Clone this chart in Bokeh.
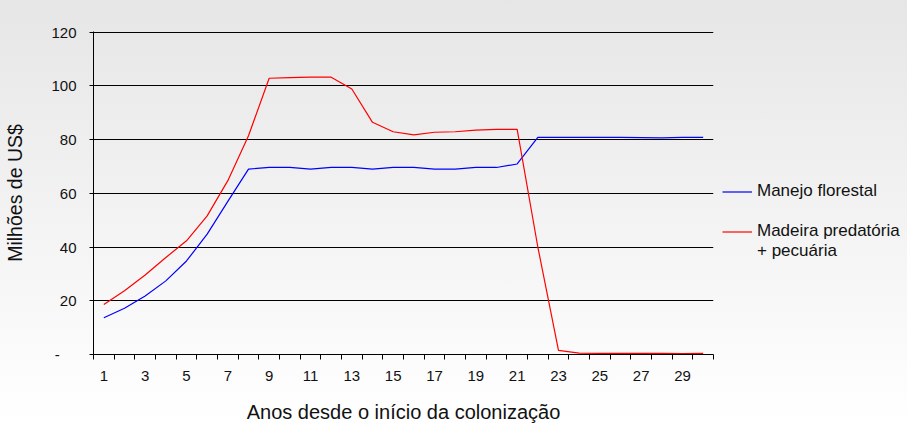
from bokeh.plotting import figure
from bokeh.models import Range1d, FixedTicker, Legend, LegendItem
from bokeh.embed import file_html
from bokeh.resources import INLINE

# ---- data ----
years = list(range(1, 31))
manejo_florestal = [13.7, 17.2, 21.8, 27.4, 34.8, 44.8, 57.0, 69.0, 69.6, 69.6,
                    69.0, 69.6, 69.6, 69.0, 69.6, 69.6, 69.0, 69.0, 69.6, 69.6,
                    70.9, 80.8, 80.8, 80.8, 80.8, 80.8, 80.7, 80.6, 80.8, 80.8]
madeira_pecuaria = [18.6, 23.7, 29.6, 36.1, 42.3, 51.6, 64.7, 81.4, 102.8, 103.0,
                    103.2, 103.2, 98.8, 86.4, 82.9, 81.7, 82.7, 82.9, 83.5, 83.8,
                    83.8, 40.0, 1.5, 0.5, 0.4, 0.4, 0.4, 0.4, 0.3, 0.4]
series_names = ["Manejo florestal", "Madeira predatória"]
series_name_line2 = "+ pecuária"
x_tick_values = list(range(1, 31, 2))
y_tick_values = [0, 20, 40, 60, 80, 100, 120]
y_zero_label = "-\u00a0\u00a0\u00a0\u00a0"
x_title = "Anos desde o início da colonização"
y_title = "Milhões de US$"

FONT = "Liberation Sans"
TXT = "#111111"

p = figure(frame_width=620, frame_height=323, output_backend="svg",
           toolbar_location=None,
           x_range=Range1d(0.5, 30.5), y_range=Range1d(0, 120.2),
           min_border_left=93, min_border_right=186, min_border_top=31,
           min_border_bottom=68)
p.border_fill_color = None
p.background_fill_color = None
p.outline_line_color = None
p.styles = {"background": "linear-gradient(to bottom, #e6e6e6 0%, #fdfdfd 92%, #ffffff 100%)"}

r1 = p.line(years, manejo_florestal, line_color="#0000ff", line_width=1.2)
r2 = p.line(years, madeira_pecuaria, line_color="#ff0000", line_width=1.2)
# invisible renderer used only for the spacer / second legend line
r_blank = p.line(x=[], y=[], line_alpha=0)

# x axis
xa = p.xaxis[0]
xa.ticker = FixedTicker(ticks=x_tick_values,
                        minor_ticks=[v + 0.5 for v in range(0, 31)])
xa.major_tick_out = 0
xa.major_tick_in = 0
xa.major_tick_line_color = None
xa.minor_tick_out = 5
xa.minor_tick_in = 0
xa.minor_tick_line_color = "black"
xa.axis_line_color = "black"
xa.major_label_text_font = FONT
xa.major_label_text_font_size = "15px"
xa.major_label_text_color = TXT
xa.major_label_standoff = 11
xa.axis_label = x_title
xa.axis_label_text_font = FONT
xa.axis_label_text_font_size = "20px"
xa.axis_label_text_font_style = "normal"
xa.axis_label_text_color = TXT
xa.axis_label_standoff = 17

# y axis
ya = p.yaxis[0]
ya.ticker = FixedTicker(ticks=y_tick_values, minor_ticks=[])
ya.major_label_overrides = {0: y_zero_label}
ya.major_tick_out = 4
ya.major_tick_in = 0
ya.major_tick_line_color = "black"
ya.minor_tick_line_color = None
ya.axis_line_color = "black"
ya.major_label_text_font = FONT
ya.major_label_text_font_size = "15px"
ya.major_label_text_color = TXT
ya.major_label_standoff = 13
ya.axis_label = y_title
ya.axis_label_text_font = FONT
ya.axis_label_text_font_size = "19.5px"
ya.axis_label_text_font_style = "normal"
ya.axis_label_text_color = TXT
ya.axis_label_standoff = 22

p.xgrid.visible = False
p.ygrid.ticker = FixedTicker(ticks=y_tick_values[1:])
p.ygrid.grid_line_color = "black"
p.ygrid.grid_line_width = 1

legend = Legend(items=[LegendItem(label=series_names[0], renderers=[r1]),
                       LegendItem(label="\u00a0", renderers=[r_blank]),
                       LegendItem(label=series_names[1], renderers=[r2]),
                       LegendItem(label=series_name_line2, renderers=[r_blank])],
                location=(9, 93))
legend.glyph_width = 30
legend.glyph_height = 19
legend.label_height = 19
legend.label_standoff = 5
legend.spacing = 0
legend.padding = 0
legend.margin = 0
legend.border_line_color = None
legend.background_fill_alpha = 0
legend.label_text_font = FONT
legend.label_text_font_size = "17px"
legend.label_text_color = TXT
p.add_layout(legend, "right")

open("out.html", "w").write(file_html(p, INLINE))
